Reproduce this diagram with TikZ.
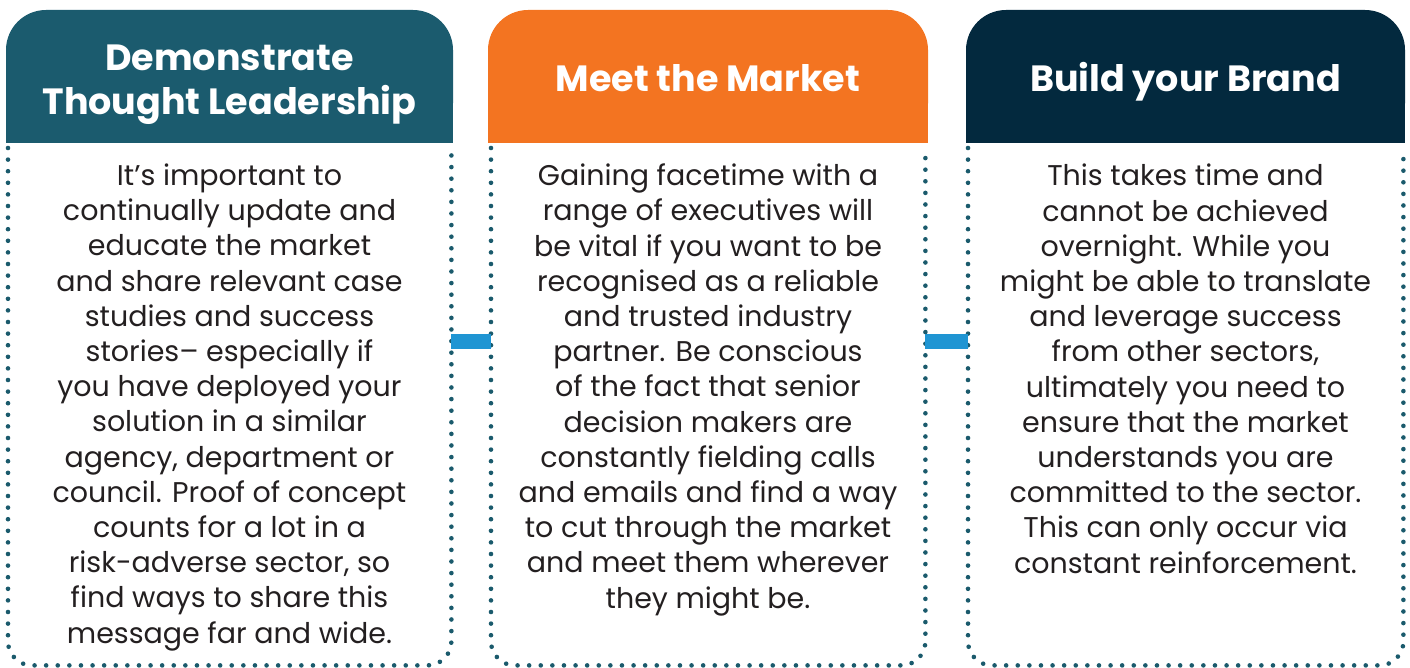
\documentclass[tikz,border=0pt]{standalone}
\usepackage{fontspec}
\setmainfont{Poppins}
\definecolor{hteal}{HTML}{1B5B6E}
\definecolor{horange}{HTML}{F37421}
\definecolor{hnavy}{HTML}{03293E}
\definecolor{dotc}{HTML}{1A5A6C}
\definecolor{connc}{HTML}{1F95D3}
\definecolor{txtc}{HTML}{231F20}
\tikzset{
  dotline/.style={draw=dotc, line width=4.6pt, line cap=round, dash pattern=on 0pt off 11.6pt, rounded corners=24pt},
  bodyarea/.style={draw=none, inner sep=0pt, anchor=north west},
  headtxt/.style={text=white, font=\bfseries\fontsize{36.5}{44}\selectfont, align=center, anchor=base, inner sep=0pt},
  bodytxt/.style={text=txtc, font=\fontsize{28.5}{35.2}\selectfont, align=center, anchor=base, inner sep=0pt},
  conn/.style={draw=connc, line width=15pt, line cap=butt},
}
\begin{document}
\begin{tikzpicture}[x=1pt,y=-1pt]
\useasboundingbox (0,0) rectangle (1410,668);
% headers
\fill[hteal, rounded corners=40pt] (6,10) rectangle (453,143);
\fill[hteal] (6,100) rectangle (453,143);
\fill[horange, rounded corners=40pt] (488,10) rectangle (928,143);
\fill[horange] (488,100) rectangle (928,143);
\fill[hnavy, rounded corners=40pt] (966,10) rectangle (1405,143);
\fill[hnavy] (966,100) rectangle (1405,143);
% body areas
\node[bodyarea, minimum width=443pt, minimum height=517pt] (body1) at (8,148) {};
\node[bodyarea, minimum width=434pt, minimum height=517pt] (body2) at (491,148) {};
\node[bodyarea, minimum width=435pt, minimum height=517pt] (body3) at (968,148) {};
\draw[dotline] (body1.north west) -- (body1.south west) -- (body1.south east) -- (body1.north east);
\draw[dotline] (body2.north west) -- (body2.south west) -- (body2.south east) -- (body2.north east);
\draw[dotline] (body3.north west) -- (body3.south west) -- (body3.south east) -- (body3.north east);
% connectors
\draw[conn] (body1.east |- 0,341.5) -- (body2.west |- 0,341.5);
\draw[conn] (body2.east |- 0,341.5) -- (body3.west |- 0,341.5);
% headings (anchor = baseline of last line)
\node[headtxt] (h1) at (229.5,115) {Demonstrate\\Thought Leadership};
\node[headtxt] (h2) at (708,92) {Meet the Market};
\node[headtxt] (h3) at (1185.5,92) {Build your Brand};
% body texts (anchor = baseline of last line)
\node[bodytxt] (t1) at (229.5,643) {It’s important to\\continually update and\\educate the market\\and share relevant case\\studies and success\\stories– especially if\\you have deployed your\\solution in a similar\\agency, department or\\council. Proof of concept\\counts for a lot in a\\risk-adverse sector, so\\find ways to share this\\message far and wide.};
\node[bodytxt] (t2) at (708,608) {Gaining facetime with a\\range of executives will\\be vital if you want to be\\recognised as a reliable\\and trusted industry\\partner. Be conscious\\of the fact that senior\\decision makers are\\constantly fielding calls\\and emails and find a way\\to cut through the market\\and meet them wherever\\they might be.};
\node[bodytxt] (t3) at (1185.5,573) {This takes time and\\cannot be achieved\\overnight. While you\\might be able to translate\\and leverage success\\from other sectors,\\ultimately you need to\\ensure that the market\\understands you are\\committed to the sector.\\This can only occur via\\constant reinforcement.};
\end{tikzpicture}
\end{document}
